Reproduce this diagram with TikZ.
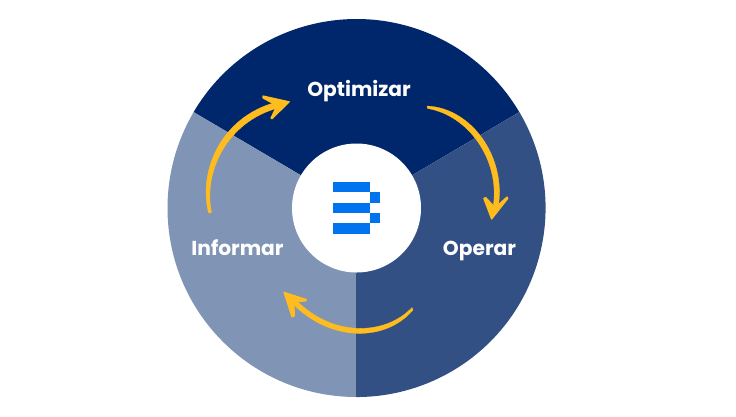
\documentclass[tikz,border=0pt]{standalone}
\usepackage{fontspec}
\setmainfont{Poppins}
\definecolor{navy}{HTML}{00266B}
\definecolor{midblue}{HTML}{335084}
\definecolor{lightblue}{HTML}{8094B5}
\definecolor{arrowyellow}{HTML}{FFBC1F}
\definecolor{logoblue}{HTML}{0073EE}
\tikzset{
  seglabel/.style={text=white,font=\fontsize{20.2}{20.2}\selectfont\bfseries,inner sep=0pt,anchor=base},
  sweep/.style={fill=arrowyellow,draw=arrowyellow,line width=0.3pt,line join=round},
  sweephead/.style={fill=arrowyellow,draw=arrowyellow,line width=1.2pt,line join=round},
  logobar/.style={fill=logoblue,draw=none}
}
\begin{document}
\begin{tikzpicture}[x=1pt,y=-1pt]
\useasboundingbox (0,0) rectangle (736,416);
\fill[white] (0,0) rectangle (736,416);
\coordinate (c) at (356.5,208);
% wedges
\fill[navy] (c) -- ++(-162.9,-95.9) arc[start angle=149.5,end angle=30.5,radius=189pt] -- cycle;
\fill[midblue] (c) -- ++(162.9,-95.9) arc[start angle=30.5,end angle=-90,radius=189pt] -- cycle;
\fill[lightblue] (c) -- ++(0,189) arc[start angle=270,end angle=149.5,radius=189pt] -- cycle;
\fill[midblue] (355.6,260) rectangle (356.6,396.9);
% hub
\fill[white] (356.5,208) circle[radius=64.5pt];
% logo
\fill[logobar] (333,182) rectangle (370.3,192.4);
\fill[logobar] (333,202.7) rectangle (370.3,213);
\fill[logobar] (333,223.4) rectangle (370.3,234);
\fill[logobar] (370.3,192.4) rectangle (380,202.7);
\fill[logobar] (370.3,213) rectangle (380,223.4);
% labels
\node[seglabel] (optimizar) at (359,96) {Optimizar};
\node[seglabel] (informar) at (237.5,255) {Informar};
\node[seglabel] (operar) at (479.5,255.5) {Operar};
% left arrow
\fill[sweep] (208.5,213) .. controls (198,170) and (221.5,117.5) .. (275,102.5)
  -- (278,108) .. controls (227.5,121.5) and (203,171.5) .. (211.5,212.5) -- cycle;
\fill[sweephead] (263,96) -- (289.2,101.8) -- (272,118.8) -- (271,118) -- (276.5,106.5) -- (275,104.5) -- (263,98) -- cycle;
% right arrow
\fill[sweep] (427,106) .. controls (472,108) and (507,158) .. (498,208)
  -- (493,208) .. controls (501,160) and (468,115) .. (427.5,108.5) -- cycle;
\fill[sweephead] (491.6,219) -- (483.8,198.5) -- (485.7,197.5) -- (494.5,207) -- (497.5,205.5) -- (507,197) -- (507.8,198.5) -- cycle;
% bottom arrow
\fill[sweep] (413,310) .. controls (385,342.5) and (330,342) .. (292,303)
  -- (296,300) .. controls (332,337) and (385,336) .. (412,307.5) -- cycle;
\fill[sweephead] (284,292.3) -- (306.3,299.5) -- (305.5,301) -- (296,301.5) -- (294,304) -- (294.3,316) -- (292,316.8) -- cycle;
\end{tikzpicture}
\end{document}
